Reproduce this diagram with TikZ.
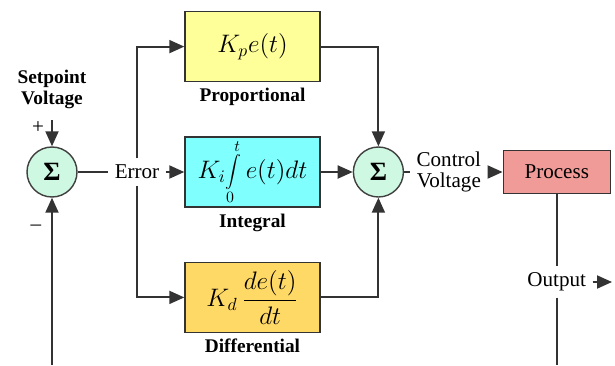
\documentclass[tikz,border=0pt]{standalone}
\usepackage{fontspec}
\setmainfont{Liberation Serif}
\usetikzlibrary{arrows.meta,positioning}
\definecolor{propfill}{HTML}{FFFF99}
\definecolor{integfill}{HTML}{80FFFF}
\definecolor{difffill}{HTML}{FFD966}
\definecolor{procfill}{HTML}{F09B98}
\definecolor{sumfill}{HTML}{CFF8E2}
\tikzset{
  ctrlblock/.style={
    draw=black!80,
    line width=0.8pt,
    minimum width=2.7cm,
    minimum height=1.4cm,
    font=\fontsize{14}{17}\selectfont,
    inner sep=2pt
  },
  sumnode/.style={
    circle,
    draw=black!75,
    line width=0.8pt,
    fill=sumfill,
    minimum size=1cm,
    inner sep=0pt,
    font=\fontsize{15}{15}\selectfont\bfseries
  },
  lbl/.style={font=\fontsize{12}{12}\selectfont, align=center, inner sep=3.5pt},
  blklbl/.style={font=\fontsize{11}{12}\selectfont\bfseries, align=center, inner sep=1pt},
  line/.style={draw=black!80, line width=1.1pt},
  rel/.style={line, -{Triangle[length=3mm, width=2.6mm]}}
}
\begin{document}
\begin{tikzpicture}[node distance=1.08cm and 0.64cm]
  \useasboundingbox (-1.04,-3.86) rectangle (11.26,3.44);

  \node[sumnode] (sum1) at (0,0) {Σ};
  \node[blklbl] (setpt) at (0,1.66) {Setpoint\\Voltage};
  \node[lbl] (plus) at (-0.28,0.88) {+};
  \node[lbl] (minus) at (-0.32,-1.12) {\textendash};
  \node[lbl, fill=white] (error) at (1.70,0) {Error};

  \node[ctrlblock, fill=integfill, inner sep=0pt] (integ) at (4.01,0)
    {$K_i\vcenter{\hbox{\scalebox{0.9}{$\displaystyle\int\limits_0^t$}}}\,e(t)dt$};
  \node[ctrlblock, fill=propfill, above=of integ] (prop) {$K_p e(t)$};
  \node[ctrlblock, fill=difffill, below=of integ] (diff) {$K_d\,\displaystyle\frac{de(t)}{dt}$};
  \node[blklbl, below=0.08cm of prop] (proplbl) {Proportional};
  \node[blklbl, below=0.08cm of integ] (integlbl) {Integral};
  \node[blklbl, below=0.08cm of diff] (difflbl) {Differential};

  \node[sumnode, right=of integ] (sum2) {Σ};
  \node[lbl, right=0.12cm of sum2] (ctrl) {Control\\Voltage};
  \node[ctrlblock, fill=procfill, minimum width=2.14cm, minimum height=0.86cm,
        font=\fontsize{12}{14}\selectfont, right=0.30cm of ctrl] (proc) {Process};
  \node[lbl, fill=white] (output) at (proc |- 0,-2.2) {Output};

  \coordinate (setin) at (0,1.04);
  \coordinate (fbbot) at (0,-3.86);
  \coordinate (outbot) at (proc |- 0,-3.86);
  \coordinate (outend) at (11.20,-2.2);

  % summing point and branches
  \draw[rel] (setin) -- (sum1);
  \draw[rel] (fbbot) -- (sum1);
  \draw[line] (sum1) -- (error);
  \draw[rel] (error) -- (integ);
  \draw[rel] (error) |- (prop);
  \draw[rel] (error) |- (diff);

  % controller sum and plant
  \draw[rel] (prop) -| (sum2);
  \draw[rel] (integ) -- (sum2);
  \draw[rel] (diff) -| (sum2);
  \draw[line] (sum2) -- (ctrl);
  \draw[rel, shorten <=0.15cm] (ctrl) -- (proc);
  \draw[line] (proc) -- (output);
  \draw[line] (output) -- (outbot);
  \draw[rel] (output) -- (outend);
\end{tikzpicture}
\end{document}
